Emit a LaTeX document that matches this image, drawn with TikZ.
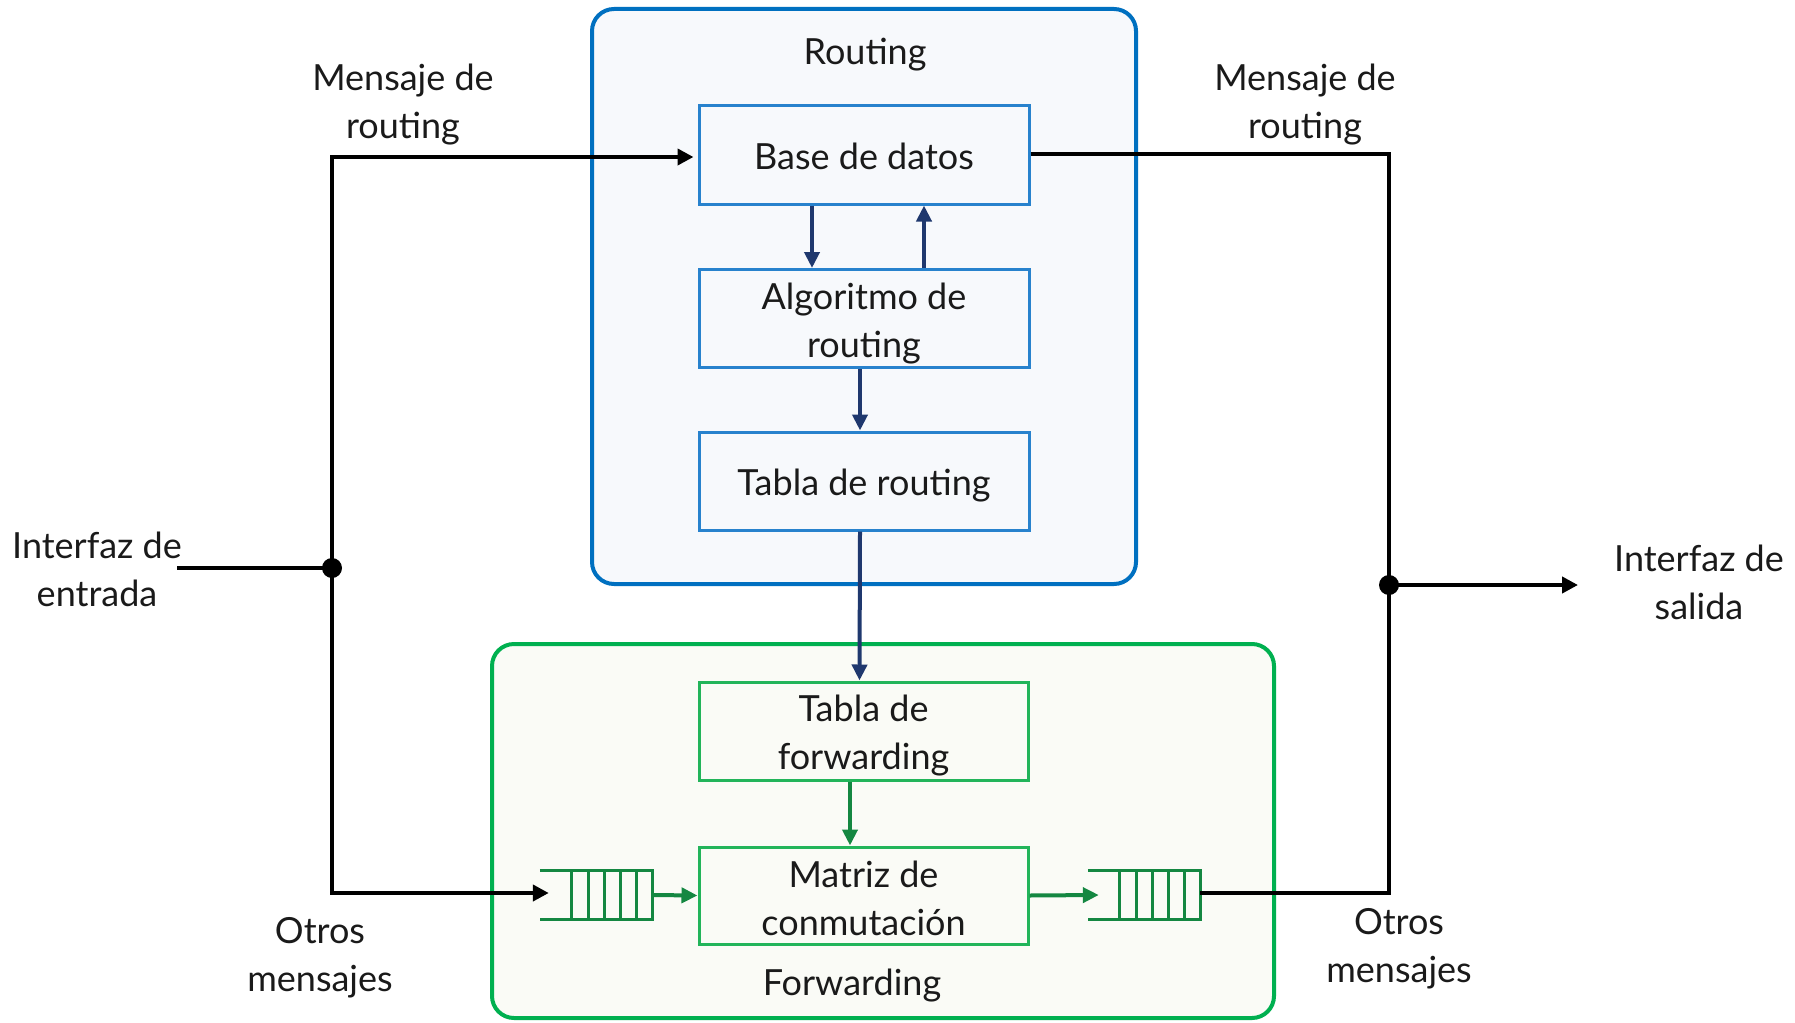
\documentclass[tikz,border=0pt]{standalone}
\usepackage{fontspec}
\setmainfont{Lato}
\usetikzlibrary{arrows.meta,calc}
\definecolor{rblue}{RGB}{0,112,192}
\definecolor{iblue}{RGB}{40,130,205}
\definecolor{navy}{RGB}{31,56,110}
\definecolor{gborder}{RGB}{0,176,80}
\definecolor{igreen}{RGB}{34,180,90}
\definecolor{dgreen}{RGB}{20,135,65}
\definecolor{rfill}{RGB}{247,249,252}
\definecolor{gfill}{RGB}{250,251,246}
\definecolor{txt}{RGB}{26,26,26}
\newcommand\lwr[1]{\rule{0pt}{#1}}
\begin{document}
\begin{tikzpicture}[x=1pt,y=-1pt,
  every node/.style={font=\fontsize{36}{48}\selectfont, align=center, text=txt},
  group/.style={draw, line width=4pt, rounded corners=22pt, inner sep=0pt},
  inbox/.style={draw, line width=3pt, minimum width=330pt, minimum height=98pt, inner sep=0pt},
  lbl/.style={inner sep=0pt},
  dot/.style={circle, fill=black, minimum size=20pt, inner sep=0pt},
  queue/.style={minimum width=112pt, minimum height=48pt, inner sep=0pt},
  bline/.style={line width=4pt, black},
  barr/.style={line width=4pt, black, -{Triangle[length=16pt,width=16pt]}},
  narr/.style={line width=4pt, navy, -{Triangle[length=16pt,width=15pt]}},
  garr/.style={line width=4pt, dgreen, -{Triangle[length=16pt,width=15pt]}},
  qline/.style={line width=3pt, dgreen}
]
\useasboundingbox (0,0) rectangle (1795,1022);
\fill[white] (0,0) rectangle (1795,1022);

% groups
\node[group, draw=rblue, fill=rfill, minimum width=544pt, minimum height=575pt] (routing) at (864,296.5) {};
\node[group, draw=gborder, fill=gfill, minimum width=782pt, minimum height=374pt] (fwd) at (883,831) {};
\node[lbl] (routinglbl) at (865,54.5) {Routing};
\node[lbl] (fwdlbl) at (852,985.5) {Forwarding};

% inner boxes
\node[inbox, draw=iblue, fill=rfill] (base) at (864,155) {\lwr{29pt}Base de datos};
\node[inbox, draw=iblue, fill=rfill] (algo) at (864,318.5) {\lwr{36pt}Algoritmo de\\routing};
\node[inbox, draw=iblue, fill=rfill] (tablar) at (864,481) {\lwr{36pt}Tabla de routing};
\node[inbox, draw=igreen, fill=gfill, minimum width=329pt] (tablaf) at (863.5,731) {\lwr{36pt}Tabla de\\forwarding};
\node[inbox, draw=igreen, fill=gfill, minimum width=329pt, minimum height=97pt] (matriz) at (863.5,895.5) {\lwr{32pt}Matriz de\\conmutación};

% routing arrows
\draw[narr] ([xshift=-52pt]base.south) -- ([xshift=-52pt]algo.north);
\draw[narr] ([xshift=60pt]algo.north) -- ([xshift=60pt]base.south);
\draw[narr] ([xshift=-4pt]algo.south) -- ([xshift=-4pt]tablar.north);
\draw[narr] ([xshift=-4pt]tablar.south) -- ([xshift=-4pt]tablaf.north);
\draw[garr] ([xshift=-13.5pt]tablaf.south) -- ([xshift=-13.5pt]matriz.north);

% queues
\node[queue] (qL) at (596,895) {};
\node[queue] (qR) at (1144,895) {};
\foreach \q in {qL,qR}{
  \draw[qline] (\q.north west) -- (\q.north east) -- (\q.south east) -- (\q.south west);
  \foreach \i in {0,...,4}{
    \draw[qline] ($(\q.north west)+(32+16.25*\i,0)$) -- ($(\q.south west)+(32+16.25*\i,0)$);
  }
}
\draw[garr] (qL.east) -- (matriz.west);
\draw[garr] (matriz.east) -- ([xshift=11pt]qR.west);

% left side
\node[dot] (jl) at (332,568) {};
\coordinate (inL) at (177,568);
\coordinate (tl) at (332,157);
\coordinate (bl) at (332,893);
\draw[bline] (inL) -- (jl.center);
\draw[bline] (tl) -- (bl);
\draw[barr] ([xshift=-2pt]tl) -- ([xshift=-4pt]tl -| base.west);
\draw[barr] ([xshift=-2pt]bl) -- ([xshift=9pt]bl -| qL.west);

% right side
\node[dot] (jr) at (1389,585) {};
\coordinate (tr) at (1389,154);
\coordinate (br) at (1389,893);
\coordinate (outR) at (1578,585);
\draw[bline] (tr -| base.east) -- (tr) -- (br) -- (br -| qR.east);
\draw[barr] (jr.center) -- (outR);

% labels
\node[lbl] (msgL) at (403,104.5) {Mensaje de\\routing};
\node[lbl] (msgR) at (1305,104.5) {Mensaje de\\routing};
\node[lbl] (inlbl) at (97,569) {Interfaz de\\entrada};
\node[lbl] (outlbl) at (1699,582) {Interfaz de\\salida};
\node[lbl] (otrosL) at (320,957.5) {Otros\\mensajes};
\node[lbl] (otrosR) at (1399,948.5) {Otros\\mensajes};
\end{tikzpicture}
\end{document}
